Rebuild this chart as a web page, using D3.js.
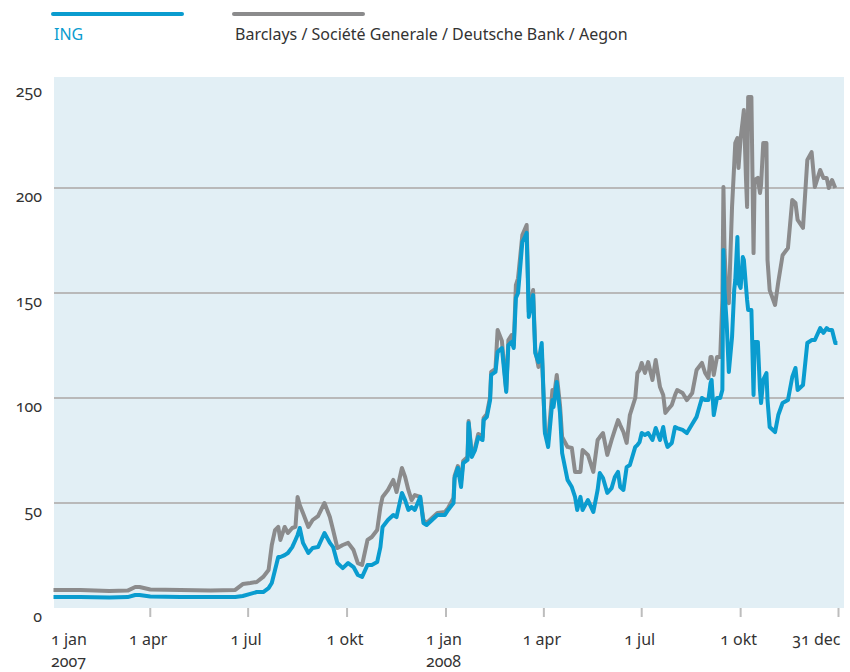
<!DOCTYPE html>
<html><head><meta charset="utf-8">
<script src="https://cdn.jsdelivr.net/npm/d3@7"></script>
<style>
html,body{margin:0;padding:0;background:#fff;}
svg text{font-family:"Noto Sans","Open Sans",sans-serif;font-feature-settings:"onum" 1;font-variant-numeric:oldstyle-nums;}
</style></head>
<body>
<svg id="chart" width="850" height="672"></svg>
<script>
const dates = ["2007-01-01","2007-01-26","2007-02-22","2007-03-11","2007-03-18","2007-03-22","2007-04-01","2007-04-29","2007-05-27","2007-06-19","2007-06-26","2007-07-03","2007-07-09","2007-07-15","2007-07-20","2007-07-23","2007-07-26","2007-07-29","2007-07-31","2007-08-04","2007-08-07","2007-08-11","2007-08-14","2007-08-16","2007-08-18","2007-08-21","2007-08-26","2007-08-30","2007-09-04","2007-09-10","2007-09-15","2007-09-18","2007-09-22","2007-09-27","2007-10-02","2007-10-07","2007-10-11","2007-10-15","2007-10-20","2007-10-24","2007-10-29","2007-11-01","2007-11-03","2007-11-08","2007-11-13","2007-11-16","2007-11-21","2007-11-24","2007-11-27","2007-11-30","2007-12-03","2007-12-08","2007-12-11","2007-12-14","2007-12-19","2007-12-24","2007-12-31","2008-01-03","2008-01-08","2008-01-09","2008-01-12","2008-01-15","2008-01-17","2008-01-21","2008-01-22","2008-01-25","2008-01-28","2008-01-31","2008-02-04","2008-02-05","2008-02-08","2008-02-11","2008-02-12","2008-02-16","2008-02-18","2008-02-22","2008-02-26","2008-02-28","2008-03-02","2008-03-04","2008-03-06","2008-03-08","2008-03-12","2008-03-14","2008-03-16","2008-03-18","2008-03-22","2008-03-24","2008-03-27","2008-03-30","2008-04-02","2008-04-05","2008-04-09","2008-04-10","2008-04-13","2008-04-16","2008-04-18","2008-04-23","2008-04-27","2008-04-30","2008-05-02","2008-05-05","2008-05-07","2008-05-12","2008-05-17","2008-05-21","2008-05-23","2008-05-26","2008-05-30","2008-06-03","2008-06-06","2008-06-09","2008-06-11","2008-06-14","2008-06-17","2008-06-20","2008-06-25","2008-06-27","2008-06-29","2008-07-01","2008-07-04","2008-07-07","2008-07-11","2008-07-14","2008-07-18","2008-07-21","2008-07-23","2008-07-25","2008-07-29","2008-08-01","2008-08-03","2008-08-08","2008-08-12","2008-08-17","2008-08-21","2008-08-26","2008-08-29","2008-09-01","2008-09-03","2008-09-04","2008-09-06","2008-09-09","2008-09-12","2008-09-14","2008-09-15","2008-09-16","2008-09-18","2008-09-20","2008-09-23","2008-09-25","2008-09-26","2008-09-28","2008-09-29","2008-10-01","2008-10-03","2008-10-04","2008-10-06","2008-10-07","2008-10-08","2008-10-11","2008-10-13","2008-10-14","2008-10-17","2008-10-19","2008-10-20","2008-10-22","2008-10-25","2008-10-26","2008-10-28","2008-11-02","2008-11-05","2008-11-09","2008-11-14","2008-11-18","2008-11-21","2008-11-23","2008-11-28","2008-12-02","2008-12-06","2008-12-09","2008-12-14","2008-12-17","2008-12-20","2008-12-22","2008-12-25","2008-12-28","2008-12-30"];

const ing = [5.2,5.2,5.0,5.2,6.2,6.2,5.5,5.2,5.2,5.2,5.7,6.7,7.6,7.6,9.5,11.9,18.1,24.3,24.3,25.2,26.2,29,32.4,34.8,38.1,31,26.2,28.6,29,35.7,31,29,21.4,19,21.4,19.5,15.7,14.8,20.5,20.5,21.9,29,38.6,41.9,44.3,43.3,54.8,51.4,46.7,48.1,46.7,52.9,40.5,39.5,41.9,44.3,44.3,46.7,50,61.9,66.7,57.6,69,70.5,88.1,71.9,75.2,81.4,80,89.5,91,99,111,112.4,121.9,123.8,102.9,125.2,126.7,123.8,147.6,150,174.3,176.2,178.6,138.6,149,121.4,117.1,126.2,83.3,76.7,99,95.7,107.6,92.9,73.8,61,57.6,52.9,46.7,52.9,46.7,51.4,45.7,56.2,64.3,61.9,54.8,57.1,62.4,64.8,57.6,56.2,67.1,68.1,76.7,77.6,79,83.3,82.4,83.3,80,85.7,80,86.2,80,76.7,78.6,86.2,85.7,84.8,83.3,87.6,91,100,99,99,107.1,108.6,91.9,100,100,103.8,170.5,151.4,135.7,112.4,129,151.4,156.2,176.7,154.8,152.4,167.1,165.7,152.9,146.7,141.9,141.9,101.4,126.7,126.7,103.8,97.6,108.6,111.9,99,86.2,83.8,91.9,97.6,99,110,114.3,103.8,106.2,126.2,127.6,127.6,133.3,131,133.3,132.4,132.4,126.2,126.2];

const peers = [8.6,8.6,8.1,8.3,10.0,10.0,8.8,8.6,8.3,8.6,11.4,11.9,12.4,14.8,18.1,30,37.1,38.6,32.4,38.6,35.7,38.1,38.6,52.9,49,45.2,38.6,41.9,43.8,50,43.3,37.1,28.6,30,31,27.6,21.4,20.5,32.4,33.8,37.1,48.1,52.9,56.2,61,55.2,66.7,62.4,56.2,51.4,53.8,52.9,41.9,40.5,42.9,45.2,45.7,47.6,52.4,62.9,67.6,60.5,70,71.9,89,72.9,76.2,82.9,81.4,90.5,92.4,100.5,112.4,113.8,132.4,127.1,103.8,127.6,130,125.2,153.8,157,177.6,180,182.4,141,151.4,122.9,114.8,122.9,83.8,80,103.8,99,111,96.7,81.4,76.7,76.2,64.8,64.8,64.8,75.2,72.9,64.8,80,81.4,83.3,72.9,80,84.8,89.5,87.1,83.8,78.6,91.9,100,111.9,113.3,116.7,111.9,117.1,108.6,118.1,105.2,101.4,92.9,94.3,96.7,101.4,103.8,102.4,99,102.4,113.3,116.7,111.9,109.5,119.5,119.5,111,119.5,119.5,146.7,200.5,170.5,146.7,145.2,191,211,221.4,223.8,209.5,223.8,232.4,237.1,203.8,191,243.3,243.3,169,203.8,204.8,197.6,201.4,221.4,221.4,165.7,151.4,144.3,155.2,168,171.4,194.3,192.9,184.8,181,213.3,217.1,200.5,208.6,204.8,204.8,200,203.8,200];

const yTicks = [0,50,100,150,200,250];
const gridValues = [50,100,150,200];
const xTickDates = ["2007-04-01","2007-07-01","2007-10-01","2008-01-01","2008-04-01","2008-07-01","2008-10-01","2008-12-31"];
const xLabels = [
  {date:"2007-01-01", line1:"1 jan", line2:"2007", anchor:"start"},
  {date:"2007-04-01", line1:"1 apr"},
  {date:"2007-07-01", line1:"1 jul"},
  {date:"2007-10-01", line1:"1 okt"},
  {date:"2008-01-01", line1:"1 jan", line2:"2008"},
  {date:"2008-04-01", line1:"1 apr"},
  {date:"2008-07-01", line1:"1 jul"},
  {date:"2008-10-01", line1:"1 okt"},
  {date:"2008-12-31", line1:"31 dec", anchor:"end"}
];
const seriesNames = ["ING","Barclays / Société Generale / Deutsche Bank / Aegon"];
const colors = {ing:"#0a9ccf", peers:"#8b8b8c"};

const parse = d3.timeParse("%Y-%m-%d");
const svg = d3.select("#chart");

const x = d3.scaleTime().domain([parse("2007-01-01"), parse("2008-12-31")]).range([53.5, 838.5]);
const y = d3.scaleLinear().domain([0, 250]).range([608, 83]);

svg.append("rect").attr("x", 54).attr("y", 77).attr("width", 790).attr("height", 531).attr("fill", "#e2eff5");

svg.append("g").selectAll("line").data(gridValues).join("line")
  .attr("x1", 54).attr("x2", 844)
  .attr("y1", d => y(d)).attr("y2", d => y(d))
  .attr("stroke", "#b9b9b9").attr("stroke-width", 2);

svg.append("g").selectAll("text").data(yTicks).join("text")
  .attr("x", 42).attr("y", d => y(d) + 14)
  .attr("text-anchor", "end").attr("font-size", 16).attr("fill", "#333")
  .text(d => d);

svg.append("g").selectAll("line").data(xTickDates).join("line")
  .attr("x1", d => x(parse(d))).attr("x2", d => x(parse(d)))
  .attr("y1", 608).attr("y2", 617)
  .attr("stroke", "#bdbdbd").attr("stroke-width", 2);

const xl = svg.append("g").selectAll("g").data(xLabels).join("g");
xl.append("text")
  .attr("x", d => d.anchor === "start" ? 51 : x(parse(d.date)) + (d.anchor === "end" ? 2 : -2))
  .attr("y", 645).attr("font-size", 16).attr("fill", "#333")
  .attr("text-anchor", d => d.anchor || "middle")
  .text(d => d.line1);
xl.filter(d => d.line2).append("text")
  .attr("x", d => d.anchor === "start" ? 51 : x(parse(d.date)) - 20)
  .attr("y", 667).attr("font-size", 16).attr("fill", "#333")
  .attr("text-anchor", "start")
  .text(d => d.line2);

const pts = dates.map(parse);
const line = d3.line().x(d => x(d[0])).y(d => y(d[1]));
svg.append("path").datum(pts.map((d,i) => [d, peers[i]]))
  .attr("d", line).attr("fill", "none").attr("stroke", colors.peers)
  .attr("stroke-width", 4).attr("stroke-linejoin", "round");
svg.append("path").datum(pts.map((d,i) => [d, ing[i]]))
  .attr("d", line).attr("fill", "none").attr("stroke", colors.ing)
  .attr("stroke-width", 4).attr("stroke-linejoin", "round");

const legend = [
  {name: seriesNames[0], color: colors.ing, text: colors.ing, x: 53},
  {name: seriesNames[1], color: colors.peers, text: "#333", x: 234}
];
const lg = svg.append("g").selectAll("g").data(legend).join("g");
lg.append("line").attr("x1", d => d.x).attr("x2", d => d.x + 129)
  .attr("y1", 14).attr("y2", 14).attr("stroke", d => d.color)
  .attr("stroke-width", 4).attr("stroke-linecap", "round");
lg.append("text").attr("x", d => d.x + 1).attr("y", 40)
  .attr("font-size", 16).attr("fill", d => d.text).text(d => d.name);
</script>
</body></html>
